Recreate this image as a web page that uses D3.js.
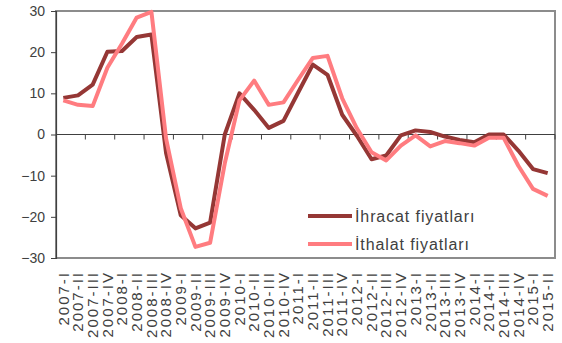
<!DOCTYPE html>
<html>
<head>
  <meta charset="utf-8">
  <script src="https://d3js.org/d3.v7.min.js"></script>
  <style>
    body { margin: 0; background: #fff; }
    svg { display: block; font-family: "Liberation Sans", Arial, sans-serif; }
    .axis text { fill: #404040; font-size: 14px; }
    .axis path, .axis line { stroke: #404040; }
    .legend text { fill: #404040; font-size: 16px; letter-spacing: 0.9px; }
  </style>
</head>
<body>
  <div id="chart"></div>
  <script>
    // quarters 2007-I .. 2015-II
    const years = ["2007", "2008", "2009", "2010", "2011", "2012", "2013", "2014", "2015"];
    const quarters = ["I", "II", "III", "IV"];
    const categories = [];
    years.forEach(y => quarters.forEach(q => categories.push(y + "-" + q)));
    categories.splice(34);

    const ihracat = [8.9, 9.5, 12.1, 20.1, 20.3, 23.7, 24.3, -4.5, -19.6, -22.8, -21.4, 0,
      10, 6, 1.6, 3.3, 10.2, 17, 14.5, 4.8, -0.3, -6, -5.1, -0.2, 1, 0.6, -0.5, -1.3,
      -1.9, 0, 0, -3.9, -8.4, -9.4];
    const ithalat = [8.3, 7.2, 6.9, 16.2, 22.1, 28.4, 29.8, -1, -17.9, -27.3, -26.3, -7,
      8.3, 13.1, 7.2, 7.8, 13.3, 18.6, 19.1, 8.8, 1.5, -4.3, -6.3, -2.7, -0.2, -2.9, -1.6,
      -2.1, -2.7, -0.8, -0.8, -7.6, -13.2, -14.9];
    const yTicks = [-30, -20, -10, 0, 10, 20, 30];

    const series = [
      { name: "İhracat fiyatları", values: ihracat, color: "#953735" },
      { name: "İthalat fiyatları", values: ithalat, color: "#ff7c80" }
    ];

    const width = 562, height = 343;
    const margin = { top: 11, right: 7, bottom: 85, left: 56 };

    const svg = d3.select("#chart").append("svg")
      .attr("width", width)
      .attr("height", height);

    const x = d3.scaleBand()
      .domain(categories)
      .range([margin.left, width - margin.right])
      .padding(0);

    const y = d3.scaleLinear()
      .domain([-30, 30])
      .range([height - margin.bottom, margin.top]);

    // plot area frame (gray)
    svg.append("rect")
      .attr("x", margin.left)
      .attr("y", margin.top)
      .attr("width", width - margin.left - margin.right)
      .attr("height", y(-30) - y(30))
      .attr("fill", "none")
      .attr("stroke", "#8c8c8c")
      .attr("stroke-width", 2);

    // y axis
    svg.append("g")
      .attr("class", "axis")
      .attr("transform", `translate(${margin.left},0)`)
      .call(d3.axisLeft(y).tickValues(yTicks).tickSize(5).tickPadding(6).tickFormat(d3.format("d")))
      .call(g => g.select(".domain").attr("stroke-width", 1.2));

    // zero line with tick marks every 2 quarters
    const zero = svg.append("g").attr("class", "axis");
    zero.append("line")
      .attr("x1", margin.left).attr("x2", width - margin.right)
      .attr("y1", y(0)).attr("y2", y(0))
      .attr("stroke", "#404040");
    zero.selectAll(".tk")
      .data(categories.filter((d, i) => i % 2 === 0 && i > 0).concat(["end"]))
      .join("line")
      .attr("x1", d => d === "end" ? x.range()[1] : x(d))
      .attr("x2", d => d === "end" ? x.range()[1] : x(d))
      .attr("y1", y(0)).attr("y2", y(0) + 5)
      .attr("stroke", "#404040");

    // x labels, rotated
    const xAxis = svg.append("g")
      .attr("class", "axis")
      .attr("transform", `translate(0,${y(-30) + 13})`)
      .call(d3.axisBottom(x).tickSize(0).tickPadding(0));
    xAxis.select(".domain").remove();
    xAxis.selectAll("text")
      .attr("transform", "rotate(-90)")
      .attr("x", 0)
      .attr("y", 0)
      .attr("dy", "0.35em")
      .style("text-anchor", "end")
      .style("font-size", "15px")
      .style("letter-spacing", "2px");

    // lines
    const line = d3.line()
      .x((d, i) => x(categories[i]) + x.bandwidth() / 2)
      .y(d => y(d));

    svg.selectAll(".series")
      .data(series)
      .join("path")
      .attr("class", "series")
      .attr("d", d => line(d.values))
      .attr("fill", "none")
      .attr("stroke", d => d.color)
      .attr("stroke-width", 4)
      .attr("stroke-linejoin", "round");

    // legend
    const legend = svg.append("g").attr("class", "legend")
      .attr("transform", "translate(308,216)");
    const item = legend.selectAll("g")
      .data(series)
      .join("g")
      .attr("transform", (d, i) => `translate(0,${i * 28})`);
    item.append("line")
      .attr("x1", 0).attr("x2", 44)
      .attr("stroke", d => d.color)
      .attr("stroke-width", 4);
    item.append("text")
      .attr("x", 47)
      .attr("dy", "0.35em")
      .text(d => d.name);
  </script>
</body>
</html>
